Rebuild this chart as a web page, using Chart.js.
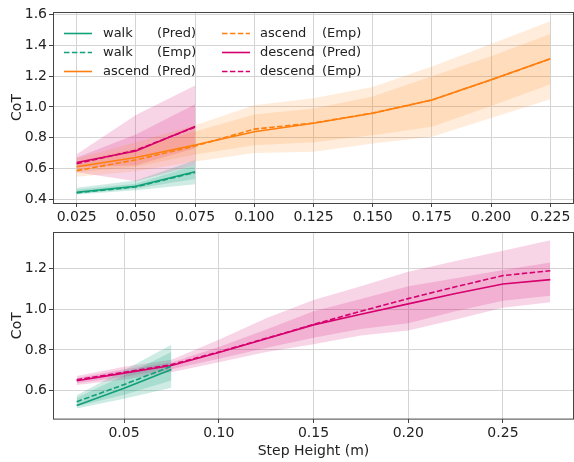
<!DOCTYPE html>
<html lang="en">
<head>
<meta charset="UTF-8">
<title>CoT vs Step Height</title>
<script src="https://cdn.jsdelivr.net/npm/chart.js@4"></script>
<style>
  body { margin: 0; background: #fff; font-family: 'DejaVu Sans', sans-serif; }
  #wrap { position: relative; width: 574px; height: 462px; overflow: hidden; }
  canvas { position: absolute; left: 0; }
  #cTop { top: 0; }
  #cBot { top: 222px; }
  .legend { position: absolute; left: 0; top: 0; font-size: 13px; color: #222; }
  .item { position: absolute; height: 18px; line-height: 18px; white-space: nowrap; }
  .item svg { position: absolute; top: 0; }
  .item .name { position: absolute; top: 0; }
  .item .kind { position: absolute; top: 0; }
</style>
</head>
<body>
<div id="wrap">
  <canvas id="cTop" width="574" height="226"></canvas>
  <canvas id="cBot" width="574" height="240"></canvas>
  <div class="legend" id="legend"></div>
</div>
<script>
// ---- data ----
const stepShort = [0.025, 0.05, 0.075];
const stepAscend = [0.025, 0.05, 0.075, 0.1, 0.125, 0.15, 0.175, 0.2, 0.225];
const stepDescend = [0.025, 0.05, 0.075, 0.1, 0.125, 0.15, 0.175, 0.2, 0.225, 0.25, 0.275];

// top panel: walk
const walkPredTop = [0.444, 0.483, 0.577];
const walkEmpTop = [0.440, 0.479, 0.573];
const walkOuterHiTop = [0.474, 0.520, 0.653];
const walkInnerHiTop = [0.462, 0.500, 0.620];
const walkInnerLoTop = [0.435, 0.468, 0.530];
const walkOuterLoTop = [0.430, 0.457, 0.496];

// top panel: ascend
const ascPred = [0.610, 0.670, 0.752, 0.838, 0.893, 0.958, 1.045, 1.176, 1.313];
const ascEmp = [0.585, 0.655, 0.745, 0.855, 0.895, 0.960, 1.045, 1.176, 1.313];
const ascOuterHi = [0.665, 0.770, 0.880, 1.010, 1.056, 1.130, 1.263, 1.410, 1.557];
const ascInnerHi = [0.645, 0.730, 0.840, 0.950, 0.990, 1.067, 1.200, 1.330, 1.474];
const ascInnerLo = [0.575, 0.610, 0.690, 0.750, 0.770, 0.816, 0.870, 1.006, 1.148];
const ascOuterLo = [0.545, 0.580, 0.645, 0.700, 0.707, 0.762, 0.805, 0.927, 1.050];

// top panel: descend
const descPredTop = [0.638, 0.712, 0.872];
const descEmpTop = [0.630, 0.718, 0.868];
const descOuterHiTop = [0.692, 0.947, 1.139];
const descInnerHiTop = [0.671, 0.820, 1.017];
const descInnerLoTop = [0.605, 0.620, 0.730];
const descOuterLoTop = [0.575, 0.516, 0.620];

// bottom panel: walk
const walkPredBot = [0.527, 0.612, 0.704];
const walkEmpBot = [0.546, 0.630, 0.720];
const walkOuterHiBot = [0.578, 0.700, 0.825];
const walkInnerHiBot = [0.565, 0.675, 0.790];
const walkInnerLoBot = [0.522, 0.580, 0.650];
const walkOuterLoBot = [0.512, 0.560, 0.614];

// bottom panel: descend
const descPredBot = [0.649, 0.686, 0.724, 0.787, 0.855, 0.923, 0.975, 1.026, 1.077, 1.124, 1.145];
const descEmpBot = [0.654, 0.690, 0.728, 0.790, 0.857, 0.925, 0.990, 1.052, 1.110, 1.165, 1.189];
const descOuterHiBot = [0.672, 0.717, 0.752, 0.850, 0.955, 1.045, 1.113, 1.184, 1.236, 1.287, 1.338];
const descInnerHiBot = [0.662, 0.705, 0.738, 0.815, 0.900, 0.990, 1.050, 1.113, 1.152, 1.192, 1.229];
const descInnerLoBot = [0.636, 0.668, 0.705, 0.757, 0.810, 0.860, 0.903, 0.931, 0.990, 1.042, 1.066];
const descOuterLoBot = [0.628, 0.655, 0.690, 0.740, 0.790, 0.828, 0.871, 0.896, 0.950, 1.007, 1.034];

// ticks
const xTicksTop = [0.025, 0.05, 0.075, 0.1, 0.125, 0.15, 0.175, 0.2, 0.225];
const yTicksTop = [0.4, 0.6, 0.8, 1.0, 1.2, 1.4, 1.6];
const xTicksBot = [0.05, 0.1, 0.15, 0.2, 0.25];
const yTicksBot = [0.6, 0.8, 1.0, 1.2];

const legendItems = [
  ['walk', '(Pred)', 'walk', false], ['walk', '(Emp)', 'walk', true], ['ascend', '(Pred)', 'ascend', false],
  ['ascend', '(Emp)', 'ascend', true], ['descend', '(Pred)', 'descend', false], ['descend', '(Emp)', 'descend', true]
];

const colors = { walk: '#11a079', ascend: '#ff7f0e', descend: '#d6006e' };
const fills = { walk: 'rgba(17,160,121,0.2)', ascend: 'rgba(255,127,14,0.15)', descend: 'rgba(214,0,110,0.17)' };

const pts = (xs, ys) => xs.map((x, i) => ({ x: x, y: ys[i] }));

function band (xs, hi, lo, key) {
  return [
    { data: pts(xs, hi), borderWidth: 0, pointRadius: 0, fill: '+1', backgroundColor: fills[key], tension: 0 },
    { data: pts(xs, lo), borderWidth: 0, pointRadius: 0, fill: false, tension: 0 }
  ];
}

function line (xs, ys, key, dashed) {
  return {
    data: pts(xs, ys), borderColor: colors[key], borderWidth: 1.6, pointRadius: 0,
    fill: false, tension: 0, borderDash: dashed ? [5.5, 2.4] : []
  };
}

// full box around the plot, like matplotlib spines
const frame = {
  id: 'frame',
  afterDraw (chart) {
    const a = chart.chartArea, ctx = chart.ctx;
    ctx.save();
    ctx.strokeStyle = '#444';
    ctx.lineWidth = 1;
    ctx.strokeRect(Math.round(a.left) + 0.5, Math.round(a.top) + 0.5, a.right - a.left - 1, a.bottom - a.top);
    ctx.restore();
  }
};

Chart.defaults.font.family = "'DejaVu Sans', sans-serif";
Chart.defaults.font.size = 14;
Chart.defaults.color = '#222';

function makeOptions (xr, yr, xTicks, yTicks, xDigits, xTitle, xHeight, padTop) {
  return {
    responsive: false,
    animation: false,
    layout: { padding: { top: padTop, right: 0, left: 0, bottom: 0 } },
    plugins: { legend: { display: false }, tooltip: { enabled: false } },
    scales: {
      x: {
        type: 'linear', min: xr[0], max: xr[1],
        afterBuildTicks: s => { s.ticks = xTicks.map(v => ({ value: v })); },
        afterFit: s => { s.height = xHeight; },
        ticks: { callback: v => v.toFixed(xDigits), padding: 2, maxRotation: 0, autoSkip: false },
        grid: { color: '#d4d4d4', tickColor: '#444', tickLength: 4 },
        border: { display: false },
        title: { display: !!xTitle, text: xTitle, padding: { top: 0, bottom: 2.6 } }
      },
      y: {
        min: yr[0], max: yr[1],
        afterBuildTicks: s => { s.ticks = yTicks.map(v => ({ value: v })); },
        afterFit: s => { s.width = 53; },
        ticks: { callback: v => v.toFixed(1), padding: 2 },
        grid: { color: '#d4d4d4', tickColor: '#444', tickLength: 4 },
        border: { display: false },
        title: { display: true, text: 'CoT', padding: { top: 8.6, bottom: 0 } }
      }
    }
  };
}

new Chart(document.getElementById('cTop'), {
  type: 'line',
  data: {
    datasets: [
      line(stepShort, walkPredTop, 'walk', false),
      line(stepShort, walkEmpTop, 'walk', true),
      line(stepAscend, ascPred, 'ascend', false),
      line(stepAscend, ascEmp, 'ascend', true),
      line(stepShort, descPredTop, 'descend', false),
      line(stepShort, descEmpTop, 'descend', true),
      ...band(stepShort, walkOuterHiTop, walkOuterLoTop, 'walk'),
      ...band(stepShort, walkInnerHiTop, walkInnerLoTop, 'walk'),
      ...band(stepAscend, ascOuterHi, ascOuterLo, 'ascend'),
      ...band(stepAscend, ascInnerHi, ascInnerLo, 'ascend'),
      ...band(stepShort, descOuterHiTop, descOuterLoTop, 'descend'),
      ...band(stepShort, descInnerHiTop, descInnerLoTop, 'descend')
    ]
  },
  options: makeOptions([0.015, 0.235], [0.374, 1.618], xTicksTop, yTicksTop, 3, '', 23, 12),
  plugins: [frame]
});

new Chart(document.getElementById('cBot'), {
  type: 'line',
  data: {
    datasets: [
      line(stepShort, walkPredBot, 'walk', false),
      line(stepShort, walkEmpBot, 'walk', true),
      line(stepDescend, descPredBot, 'descend', false),
      line(stepDescend, descEmpBot, 'descend', true),
      ...band(stepShort, walkOuterHiBot, walkOuterLoBot, 'walk'),
      ...band(stepShort, walkInnerHiBot, walkInnerLoBot, 'walk'),
      ...band(stepDescend, descOuterHiBot, descOuterLoBot, 'descend'),
      ...band(stepDescend, descInnerHiBot, descInnerLoBot, 'descend')
    ]
  },
  options: makeOptions([0.0125, 0.2875], [0.461, 1.377], xTicksBot, yTicksBot, 2, 'Step Height (m)', 43, 4),
  plugins: [frame]
});

// legend, two columns inside the top plot
const legend = document.getElementById('legend');
legendItems.forEach((it, i) => {
  const col = Math.floor(i / 3), row = i % 3;
  const lineX = col === 0 ? 64 : 222;
  const textX = col === 0 ? 103 : 260;
  const kindX = col === 0 ? 54 : 62;
  const el = document.createElement('div');
  el.className = 'item';
  el.style.left = lineX + 'px';
  el.style.top = (24 + row * 19.2) + 'px';
  const dash = it[3] ? 'stroke-dasharray="5.5 2.4"' : '';
  el.innerHTML =
    '<svg width="30" height="18" style="left:0"><line x1="0" y1="9.5" x2="28" y2="9.5" stroke="' +
    colors[it[2]] + '" stroke-width="1.6" ' + dash + '/></svg>' +
    '<span class="name" style="left:' + (textX - lineX) + 'px">' + it[0] + '</span>' +
    '<span class="kind" style="left:' + (textX - lineX + kindX) + 'px">' + it[1] + '</span>';
  legend.appendChild(el);
});
</script>
</body>
</html>
